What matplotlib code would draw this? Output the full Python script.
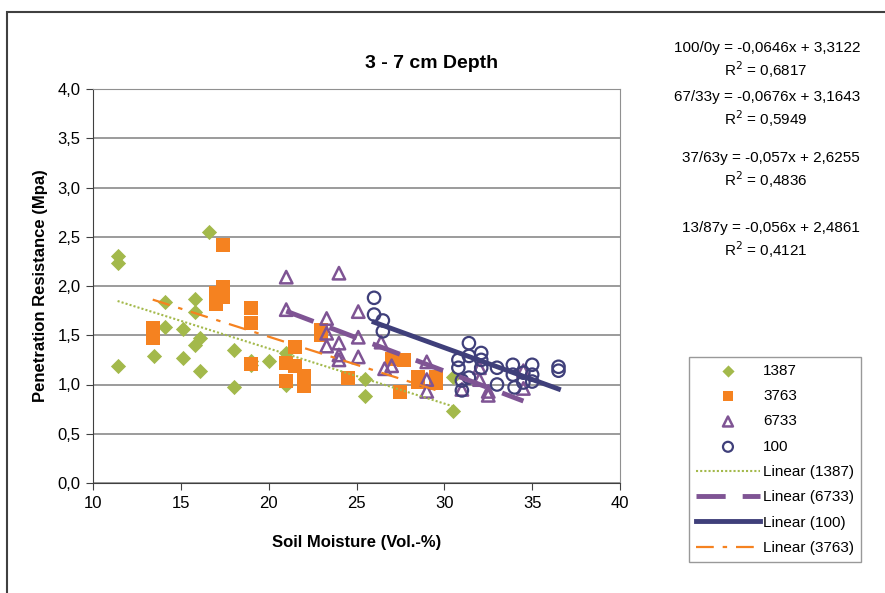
import numpy as np
import matplotlib
matplotlib.use('Agg')
import matplotlib.pyplot as plt
from matplotlib.patches import Rectangle
from matplotlib.ticker import FuncFormatter

plt.rcParams['font.family'] = ['Liberation Sans', 'DejaVu Sans']

# 1387 (green diamonds)
x_1387 = [11.4, 11.4, 11.4, 13.5, 14.1, 14.1, 15.1, 15.1, 15.8, 15.8, 15.8, 16.1, 16.1,
          16.6, 18.0, 18.0, 19.0, 19.0, 20.0, 21.0, 21.0, 25.5, 25.5, 30.5, 30.5]
y_1387 = [2.30, 2.23, 1.19, 1.29, 1.84, 1.58, 1.56, 1.27, 1.87, 1.74, 1.40, 1.47, 1.14,
          2.55, 1.35, 0.97, 1.24, 1.20, 1.24, 1.32, 1.00, 1.06, 0.88, 1.08, 0.73]

# 3763 (orange squares)
x_3763 = [13.4, 13.4, 17.0, 17.0, 17.0, 17.4, 17.4, 17.4, 19.0, 19.0, 19.0, 21.0, 21.0,
          21.5, 21.5, 22.0, 22.0, 23.0, 23.0, 24.5, 27.0, 27.7, 27.5, 28.5, 28.5, 29.5, 29.5]
y_3763 = [1.57, 1.47, 1.93, 1.82, 1.87, 2.42, 1.99, 1.89, 1.78, 1.62, 1.21, 1.22, 1.04,
          1.38, 1.19, 1.09, 0.98, 1.55, 1.50, 1.07, 1.26, 1.25, 0.92, 1.08, 1.03, 1.08, 1.02]

# 6733 (purple triangles)
x_6733 = [21.0, 24.0, 21.0, 23.3, 23.3, 23.3, 24.0, 24.0, 24.0, 25.1, 25.1, 25.1, 26.4,
          26.6, 27.0, 29.0, 29.0, 29.0, 31.0, 32.0, 32.0, 32.5, 32.5, 34.5, 34.5]
y_6733 = [2.09, 2.13, 1.76, 1.67, 1.52, 1.39, 1.42, 1.30, 1.25, 1.74, 1.48, 1.28, 1.43,
          1.16, 1.19, 1.23, 1.05, 0.93, 0.95, 1.17, 1.05, 0.93, 0.89, 1.14, 0.96]

# 100 (navy circles)
x_100 = [26.0, 26.0, 26.5, 26.5, 31.4, 30.8, 30.8, 31.4, 32.1, 32.1, 32.1, 31.0, 31.0,
         31.4, 33.0, 33.0, 33.9, 33.9, 34.0, 34.5, 34.5, 35.0, 35.0, 35.0, 36.5, 36.5]
y_100 = [1.88, 1.71, 1.65, 1.54, 1.42, 1.25, 1.17, 1.29, 1.32, 1.25, 1.17, 1.04, 0.94,
         1.07, 1.17, 1.00, 1.20, 1.10, 0.97, 1.12, 1.02, 1.20, 1.10, 1.03, 1.18, 1.14]

# trendline equations shown in the chart
eq_labels = ['100/0', '67/33', '37/63', '13/87']
eq_slopes = [-0.0646, -0.0676, -0.057, -0.056]
eq_intercepts = [3.3122, 3.1643, 2.6255, 2.4861]
eq_r2 = [0.6817, 0.5949, 0.4836, 0.4121]

fig = plt.figure(figsize=(8.85, 5.93), dpi=100)
fig.patches.append(Rectangle((7 / 885, -0.1), 1.2, 1 - 12 / 593 + 0.1,
                             transform=fig.transFigure, fill=False,
                             edgecolor='#404040', linewidth=1.5))

ax = fig.add_axes([93 / 885, 1 - 483 / 593, (620 - 93) / 885, (483 - 89) / 593])

green = '#A3B94B'
orange = '#F58220'
purple = '#7F5494'
navy = '#3F3F7A'

s1 = ax.scatter(x_1387, y_1387, marker='D', s=60, color=green, linewidths=0, zorder=3)
s2 = ax.scatter(x_3763, y_3763, marker='s', s=90, color=orange, linewidths=0, zorder=3)
s3 = ax.scatter(x_6733, y_6733, marker='^', s=80, facecolors='none', edgecolors=purple,
                linewidths=1.8, zorder=4)
s4 = ax.scatter(x_100, y_100, marker='o', s=80, facecolors='none', edgecolors=navy,
                linewidths=1.6, zorder=4)


def fit_line(xs, k):
    xx = np.array([min(xs), max(xs)])
    return xx, eq_slopes[k] * xx + eq_intercepts[k]


xx, yy = fit_line(x_1387, 3)
l1, = ax.plot(xx, yy, color=green, linestyle=(0, (1, 1)), linewidth=1.5, zorder=5)
xx, yy = fit_line(x_6733, 1)
l3, = ax.plot(xx, yy, color=purple, linestyle=(0, (6, 3.5)), linewidth=3.5, zorder=5)
xx, yy = fit_line(x_100, 0)
l4, = ax.plot(xx, yy, color=navy, linewidth=3.5, zorder=5)
xx, yy = fit_line(x_3763, 2)
l2, = ax.plot(xx, yy, color=orange, linestyle=(0, (8, 4, 2, 4)), linewidth=1.6, zorder=5)

ax.set_xlim(10, 40)
ax.set_ylim(0, 4)
ax.set_xticks(np.arange(10, 41, 5))
ax.set_yticks(np.arange(0, 4.01, 0.5))
ax.yaxis.set_major_formatter(FuncFormatter(lambda v, p: f'{v:.1f}'.replace('.', ',')))
ax.grid(axis='y', color='#8a8a8a', linewidth=1.2)
ax.set_axisbelow(True)
for side in ['top', 'right']:
    ax.spines[side].set_color('#909090')
for side in ['left', 'bottom']:
    ax.spines[side].set_color('#404040')
ax.tick_params(axis='both', labelsize=12, color='#404040', length=5, pad=4)

ax.set_xlabel('Soil Moisture (Vol.-%)', fontsize=12, fontweight='bold', labelpad=18)
ax.set_ylabel('Penetration Resistance (Mpa)', fontsize=12, fontweight='bold', labelpad=7)
fig.text(432 / 885, 1 - 63 / 593, '3 - 7 cm Depth', fontsize=14, fontweight='bold',
         ha='center', va='center')

eq_y = [48, 97, 158, 228]
for k in range(4):
    s = f'{eq_labels[k]}y = {eq_slopes[k]:g}x + {eq_intercepts[k]:g}'.replace('.', ',')
    fig.text(860 / 885, 1 - eq_y[k] / 593, s, fontsize=11, ha='right', va='center')
    r = f'R$^2$ = {eq_r2[k]:.4f}'.replace('.', ',')
    fig.text(766 / 885, 1 - (eq_y[k] + 22) / 593, r, fontsize=11, ha='center', va='center')

leg = fig.legend([s1, s2, s3, s4, l1, l3, l4, l2],
                 ['1387', '3763', '6733', '100', 'Linear (1387)', 'Linear (6733)',
                  'Linear (100)', 'Linear (3763)'],
                 loc='upper left', bbox_to_anchor=(689 / 885, 1 - 357 / 593),
                 fontsize=11, frameon=True, fancybox=False, edgecolor='#808080',
                 handlelength=4.2, handletextpad=0.2, labelspacing=0.74,
                 borderpad=0.45, borderaxespad=0, markerscale=0.8)
leg.get_frame().set_linewidth(1.0)

plt.savefig('out.png', dpi=100)
